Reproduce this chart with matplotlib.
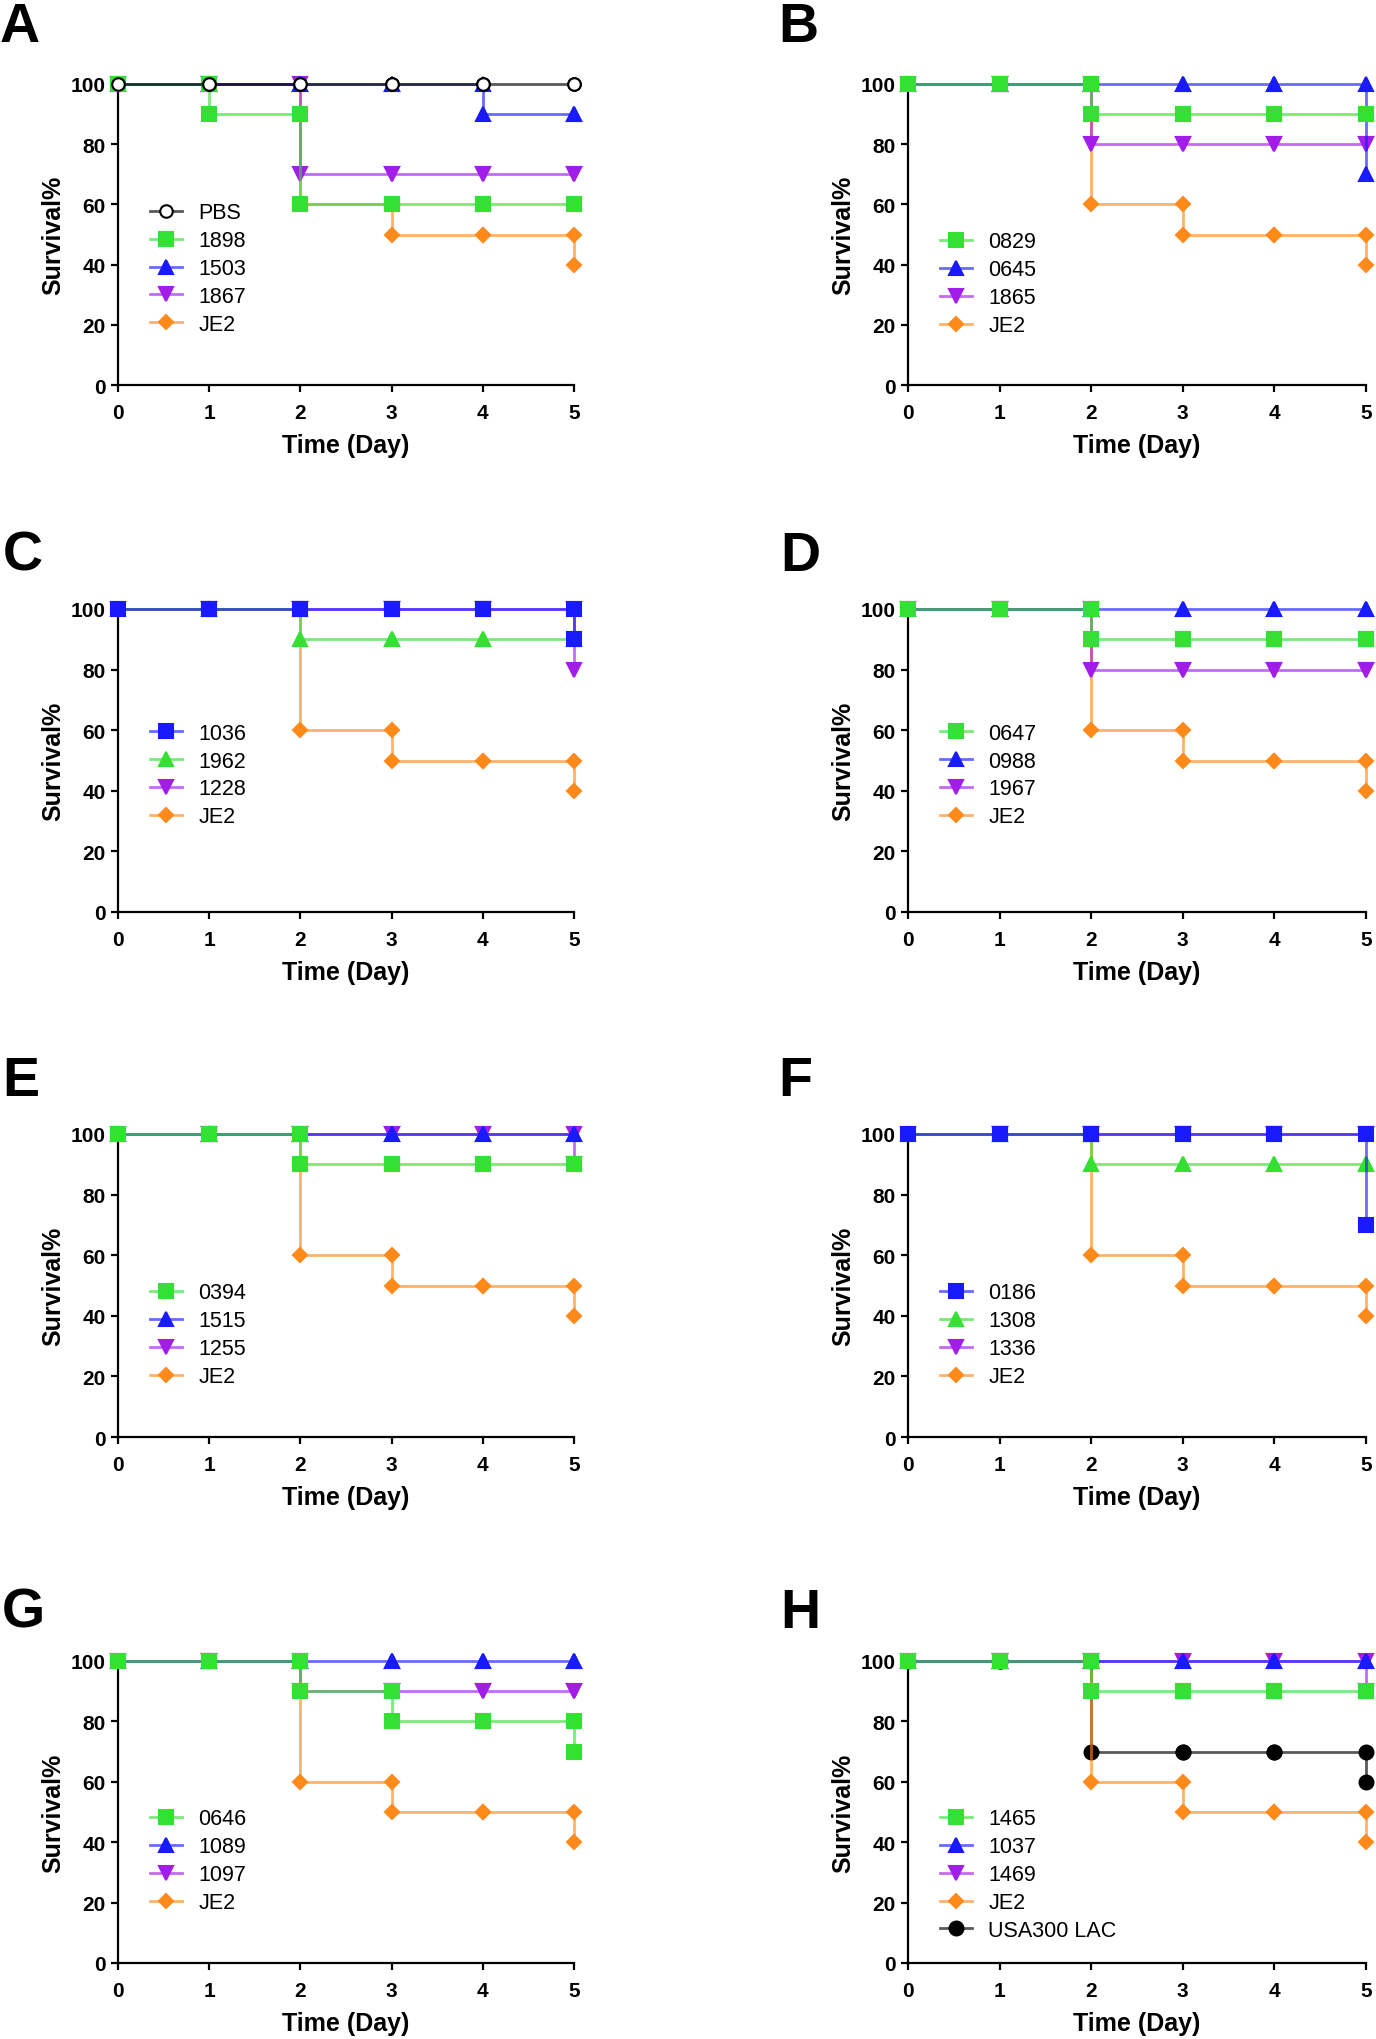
import numpy as np
import matplotlib.pyplot as plt
from matplotlib.colors import to_rgba

plt.rcParams['font.family'] = ['Liberation Sans', 'DejaVu Sans']

days = [0, 1, 2, 3, 4, 5]

# survival (%) per strain at days 0..5
a_labels = ['PBS', '1898', '1503', '1867', 'JE2']
a_styles = ['pbs', 'green_sq', 'blue_up', 'purple_dn', 'orange_d']
a_values = [[100, 100, 100, 100, 100, 100],
            [100, 90, 60, 60, 60, 60],
            [100, 100, 100, 100, 90, 90],
            [100, 100, 70, 70, 70, 70],
            [100, 100, 60, 50, 50, 40]]

b_labels = ['0829', '0645', '1865', 'JE2']
b_styles = ['green_sq', 'blue_up', 'purple_dn', 'orange_d']
b_values = [[100, 100, 90, 90, 90, 90],
            [100, 100, 100, 100, 100, 70],
            [100, 100, 80, 80, 80, 80],
            [100, 100, 60, 50, 50, 40]]

c_labels = ['1036', '1962', '1228', 'JE2']
c_styles = ['blue_sq', 'green_up', 'purple_dn', 'orange_d']
c_values = [[100, 100, 100, 100, 100, 90],
            [100, 100, 90, 90, 90, 90],
            [100, 100, 100, 100, 100, 80],
            [100, 100, 60, 50, 50, 40]]

d_labels = ['0647', '0988', '1967', 'JE2']
d_styles = ['green_sq', 'blue_up', 'purple_dn', 'orange_d']
d_values = [[100, 100, 90, 90, 90, 90],
            [100, 100, 100, 100, 100, 100],
            [100, 100, 80, 80, 80, 80],
            [100, 100, 60, 50, 50, 40]]

e_labels = ['0394', '1515', '1255', 'JE2']
e_styles = ['green_sq', 'blue_up', 'purple_dn', 'orange_d']
e_values = [[100, 100, 90, 90, 90, 90],
            [100, 100, 100, 100, 100, 100],
            [100, 100, 100, 100, 100, 90],
            [100, 100, 60, 50, 50, 40]]

f_labels = ['0186', '1308', '1336', 'JE2']
f_styles = ['blue_sq', 'green_up', 'purple_dn', 'orange_d']
f_values = [[100, 100, 100, 100, 100, 70],
            [100, 100, 90, 90, 90, 90],
            [100, 100, 100, 100, 100, 100],
            [100, 100, 60, 50, 50, 40]]

g_labels = ['0646', '1089', '1097', 'JE2']
g_styles = ['green_sq', 'blue_up', 'purple_dn', 'orange_d']
g_values = [[100, 100, 90, 80, 80, 70],
            [100, 100, 100, 100, 100, 100],
            [100, 100, 90, 90, 90, 90],
            [100, 100, 60, 50, 50, 40]]

h_labels = ['1465', '1037', '1469', 'JE2', 'USA300 LAC']
h_styles = ['green_sq', 'blue_up', 'purple_dn', 'orange_d', 'black_o']
h_values = [[100, 100, 90, 90, 90, 90],
            [100, 100, 100, 100, 100, 100],
            [100, 100, 100, 100, 100, 90],
            [100, 100, 60, 50, 50, 40],
            [100, 100, 70, 70, 70, 60]]

GREEN = '#33e033'
BLUE = '#1a1aff'
PURPLE = '#a21ee8'
ORANGE = '#ff8a1a'
BLACK = '#000000'

styles = {
    'pbs':       dict(color=BLACK, marker='o', ms=9, mfc='white'),
    'green_sq':  dict(color=GREEN, marker='s', ms=10, mfc=GREEN),
    'blue_sq':   dict(color=BLUE, marker='s', ms=10, mfc=BLUE),
    'green_up':  dict(color=GREEN, marker='^', ms=10, mfc=GREEN),
    'blue_up':   dict(color=BLUE, marker='^', ms=10, mfc=BLUE),
    'purple_dn': dict(color=PURPLE, marker='v', ms=10, mfc=PURPLE),
    'orange_d':  dict(color=ORANGE, marker='D', ms=7, mfc=ORANGE),
    'black_o':   dict(color=BLACK, marker='o', ms=10, mfc=BLACK),
}

panels = [
    ('A', a_labels, a_styles, a_values, 0, 0, 0.582),
    ('B', b_labels, b_styles, b_values, 0, 1, 0.485),
    ('C', c_labels, c_styles, c_values, 1, 0, 0.600),
    ('D', d_labels, d_styles, d_values, 1, 1, 0.600),
    ('E', e_labels, e_styles, e_values, 2, 0, 0.485),
    ('F', f_labels, f_styles, f_values, 2, 1, 0.485),
    ('G', g_labels, g_styles, g_values, 3, 0, 0.487),
    ('H', h_labels, h_styles, h_values, 3, 1, 0.487),
]

W, H = 1376, 2040
col_x = [(118, 574), (908, 1366)]
row_y = [(85, 386), (610, 913), (1135, 1438), (1662, 1964)]
letter_pos = {'A': (0, 2), 'B': (778, 2), 'C': (3, 531), 'D': (780, 531),
              'E': (2, 1056), 'F': (778, 1056), 'G': (2, 1588), 'H': (780, 1588)}


def km_steps(x, v):
    xs, ys = [x[0]], [v[0]]
    for i in range(1, len(x)):
        xs += [x[i], x[i]]
        ys += [v[i - 1], v[i]]
    return xs, ys


fig = plt.figure(figsize=(W / 100, H / 100), dpi=100)

for letter, labels, skeys, values, r, c, leg_y in panels:
    x0, x1 = col_x[c]
    y0, y1 = row_y[r]
    ax = fig.add_axes([x0 / W, 1 - y1 / H, (x1 - x0) / W, (y1 - y0) / H])
    handles = []
    n = len(labels)
    for i in range(n):
        st = styles[skeys[i]]
        xs, ys = km_steps(days, values[i])
        h, = ax.plot(xs, ys, color=to_rgba(st['color'], 0.65), lw=2,
                     marker=st['marker'], ms=st['ms'], mfc=st['mfc'],
                     mec=st['color'], mew=1.5, clip_on=False,
                     zorder=10 + n - i, label=labels[i])
        handles.append(h)
    ax.set_xlim(0, 5)
    ax.set_ylim(0, 100)
    ax.set_xticks(days)
    ax.set_yticks([0, 20, 40, 60, 80, 100])
    for s in ['top', 'right']:
        ax.spines[s].set_visible(False)
    for s in ['left', 'bottom']:
        ax.spines[s].set_linewidth(1.6)
    ax.tick_params(direction='out', length=5, width=1.6, labelsize=15)
    ax.tick_params(axis='x', pad=8)
    ax.tick_params(axis='y', pad=4)
    for t in ax.get_xticklabels() + ax.get_yticklabels():
        t.set_fontweight('bold')
    ax.set_xlabel('Time (Day)', fontsize=18, fontweight='bold', labelpad=8)
    ax.set_ylabel('Survival%', fontsize=18, fontweight='bold', labelpad=4)
    ax.legend(handles=handles, loc='upper left', bbox_to_anchor=(0.07, leg_y + 0.025),
              frameon=False, fontsize=15.5, borderpad=0, borderaxespad=0,
              handlelength=1.5, handletextpad=0.75, labelspacing=0.32)
    lx, ly = letter_pos[letter]
    fig.text(lx / W, 1 - ly / H, letter, fontsize=40, fontweight='bold',
             ha='left', va='top')

fig.savefig('out.png', dpi=100)
